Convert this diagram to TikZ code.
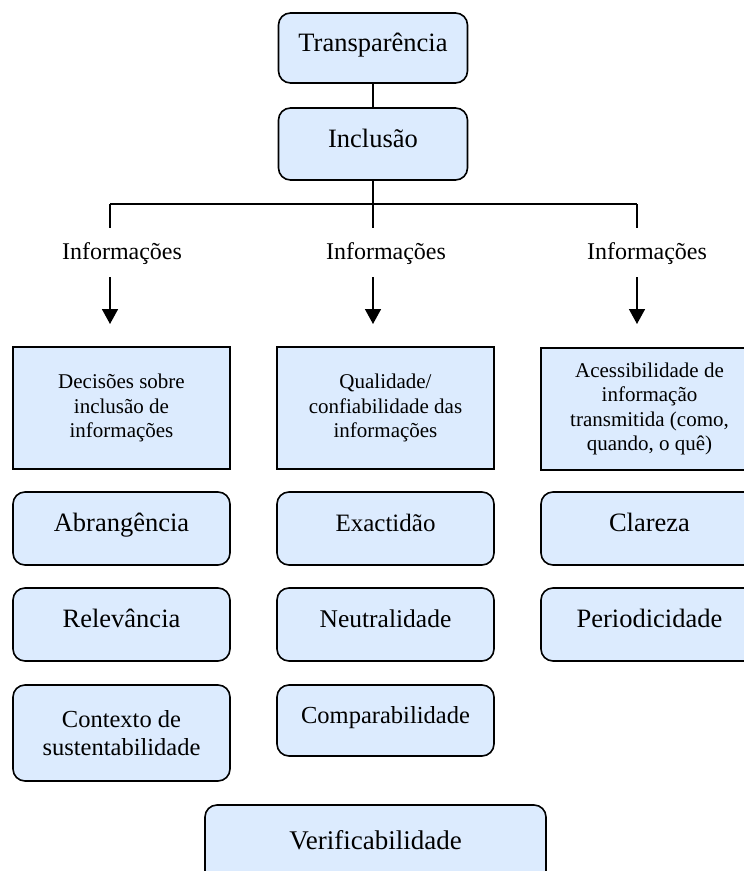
\documentclass[tikz,border=0pt]{standalone}
\usepackage{fontspec}
\setmainfont{Liberation Serif}
\usetikzlibrary{arrows.meta}
\definecolor{boxfill}{RGB}{220,235,254}

\begin{document}
\begin{tikzpicture}[x=1pt, y=-1pt, line width=1.6pt,
    rbox/.style={draw, fill=boxfill, rounded corners=12pt, minimum width=217pt, minimum height=73pt, inner sep=2pt, align=center, font=\fontsize{26.5}{28}\selectfont},
    oneline/.style={text height=17pt, text depth=11pt},
    sbox/.style={draw, fill=boxfill, minimum width=217pt, minimum height=122pt, inner sep=2pt, align=center, font=\fontsize{21}{24.6}\selectfont},
    info/.style={font=\fontsize{24}{28}\selectfont},
    arr/.style={-{Triangle[width=16pt,length=15pt]}}]
    \useasboundingbox (0,0) rectangle (744,871);
    \clip (0,0) rectangle (744,871);

    % Top
    \node[rbox, oneline, minimum width=189pt, minimum height=70pt] (transp) at (373,48) {Transparência};
    \node[rbox, oneline, minimum width=189pt, minimum height=72pt] (incl) at (373,144) {Inclusão};
    \draw (transp) -- (incl);

    % Branches
    \coordinate (hub) at (373,204);
    \coordinate (brL) at (110,204);
    \coordinate (brM) at (373,204);
    \coordinate (brR) at (637,204);
    \coordinate (brLend) at (110,228);
    \coordinate (brMend) at (373,228);
    \coordinate (brRend) at (637,228);
    \draw (incl) -- (hub);
    \draw (brL) -- (brR);
    \draw (brL) -- (brLend);
    \draw (brM) -- (brMend);
    \draw (brR) -- (brRend);

    % Labels and arrows
    \node[info] (infoL) at (122,254) {Informações};
    \node[info] (infoM) at (386,254) {Informações};
    \node[info] (infoR) at (647,254) {Informações};
    \coordinate (arrLs) at (110,277);
    \coordinate (arrMs) at (373,277);
    \coordinate (arrRs) at (637,277);
    \coordinate (arrLe) at (110,324);
    \coordinate (arrMe) at (373,324);
    \coordinate (arrRe) at (637,324);
    \draw[arr] (arrLs) -- (arrLe);
    \draw[arr] (arrMs) -- (arrMe);
    \draw[arr] (arrRs) -- (arrRe);

    % Left column
    \node[sbox] (decis) at (121.5,408) {Decisões sobre\\inclusão de\\informações};
    \node[rbox, oneline] (abrang) at (121.5,528.5) {Abrangência};
    \node[rbox, oneline] (relev) at (121.5,624.5) {Relevância};
    \node[rbox, minimum height=96pt, font=\fontsize{24.5}{28.5}\selectfont] (contexto) at (121.5,733) {Contexto de\\sustentabilidade};

    % Middle column
    \node[sbox] (qualid) at (385.5,408) {Qualidade/\\confiabilidade das\\informações};
    \node[rbox, oneline, font=\fontsize{25}{28}\selectfont] (exact) at (385.5,528.5) {Exactidão};
    \node[rbox, oneline, font=\fontsize{25.5}{28}\selectfont] (neutral) at (385.5,624.5) {Neutralidade};
    \node[rbox, oneline, minimum height=71pt, font=\fontsize{24.5}{28}\selectfont] (compar) at (385.5,720.5) {Comparabilidade};

    % Right column
    \node[sbox] (acess) at (649.5,409) {Acessibilidade de\\informação\\transmitida (como,\\quando, o quê)};
    \node[rbox, oneline] (clareza) at (649.5,528.5) {Clareza};
    \node[rbox, oneline] (period) at (649.5,624.5) {Periodicidade};

    % Bottom
    \node[rbox, minimum width=341pt, minimum height=90pt] (verif) at (375.5,850) {};
    \node[font=\fontsize{27}{28}\selectfont] (veriftxt) at (375.5,840) {Verificabilidade};
\end{tikzpicture}
\end{document}
